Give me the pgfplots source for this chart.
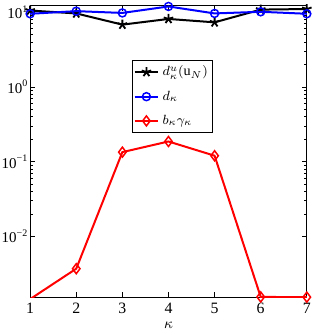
\documentclass[border=0pt]{standalone}
\usepackage{pgfplots}
\pgfplotsset{compat=1.18}
\usepackage{fontspec}
\setmainfont{Liberation Serif}
\begin{document}
\begin{tikzpicture}
\begin{axis}[
  scale only axis,
  width=166pt, height=175pt,
  ymode=log,
  xmin=1, xmax=7,
  ymin=1.53e-3, ymax=12.2,
  xtick={1,2,3,4,5,6,7},
  ytick={1e-2,1e-1,1,10},
  yticklabels={10\textsuperscript{−2},10\textsuperscript{−1},10\textsuperscript{0},10\textsuperscript{1}},
  tick align=inside,
  xticklabel style={font=\fontsize{9.5}{10}\selectfont},
  yticklabel style={font=\fontsize{9}{10}\selectfont, inner xsep=1pt},
  /pgf/number format/assume math mode=true,
  xlabel={$\kappa$},
  xlabel style={font=\fontsize{9.5}{10}\selectfont, yshift=2pt},
  major tick length=3pt, minor tick length=1.8pt,
  every tick/.style={black, thin},
  axis line style={black, line width=0.5pt},
  clip mode=individual,
  legend style={at={(0.514,0.815)}, anchor=north, font=\fontsize{8.5}{10}\selectfont,
    draw=black, line width=0.4pt, inner xsep=1pt, inner ysep=1.5pt, row sep=3.5pt},
  legend cell align=left,
  legend image code/.code={\draw[mark repeat=2,mark phase=2,#1] plot coordinates {(0cm,0cm) (0.25cm,0cm) (0.5cm,0cm)};},
  legend image post style={line width=1.2pt},
]
\addplot[black, line width=1.2pt, mark=star, mark options={solid, scale=1.5, line width=1.1pt}] coordinates {
 (1,10.5) (2,9.6) (3,6.8) (4,8.1) (5,7.3) (6,10.8) (7,11.0)};
\addlegendentry{$d^u_\kappa(\mathrm{u}_N)$}
\addplot[blue, line width=1.2pt, mark=o, mark options={solid, scale=1.2, line width=0.9pt}] coordinates {
 (1,9.5) (2,10.3) (3,9.75) (4,11.9) (5,9.6) (6,10.1) (7,9.5)};
\addlegendentry{$d_\kappa$}
\addplot[red, line width=1.2pt, mark=diamond, mark options={solid, scale=1.5, line width=0.9pt}] coordinates {
 (1,1.45e-3) (2,3.7e-3) (3,0.134) (4,0.186) (5,0.12) (6,1.55e-3) (7,1.54e-3)};
\addlegendentry{$b_\kappa\gamma_\kappa$}
\end{axis}
\path (current axis.east) -- ++(6pt,0);
\end{tikzpicture}
\end{document}
